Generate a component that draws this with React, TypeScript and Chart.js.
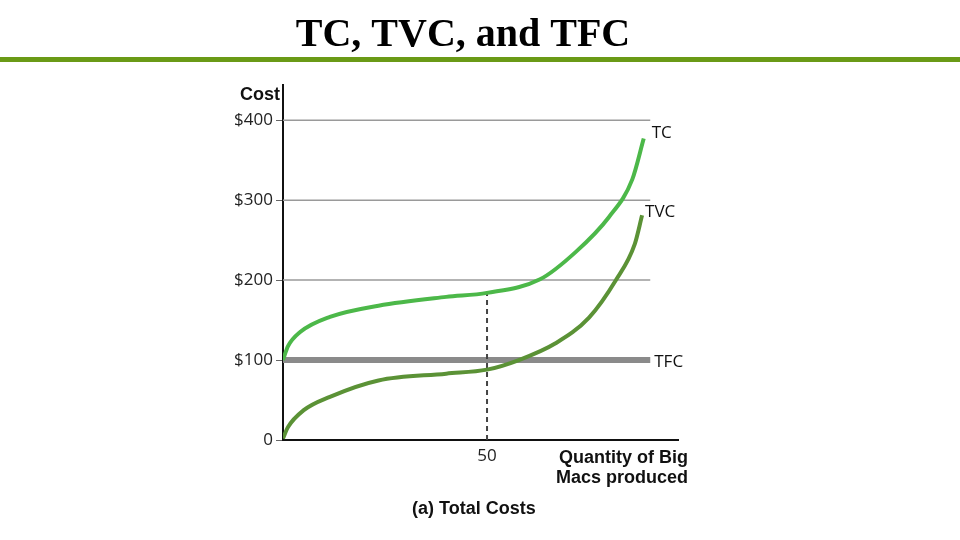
import { useEffect, useRef } from "react";
import { Chart, registerables } from "chart.js";

Chart.register(...registerables);

// ---- data ----
const tcQuantity = [0, 1.2, 4.2, 11.5, 23.4, 40, 50, 63, 71.7, 79.9, 85.6, 88.4];
const tcCost = [100, 117, 135, 154, 168, 179, 184, 201, 235, 279, 326, 377];
const tvcQuantity = [0, 1.2, 5, 11.5, 23.4, 40, 50, 57.8, 66.8, 75, 81.6, 86.2, 88];
const tvcCost = [2, 16, 37, 54, 74.5, 83, 88, 100, 121, 153, 200, 245, 281];
const tfcQuantity = [0, 90];
const tfcCost = [100, 100];
const gridCosts = [200, 300, 400];
const gridQuantityEnd = 90;
const markerQuantity = 50;
const markerCost = 185;
const yTickValues = [0, 100, 200, 300, 400];
const xTickValues = [50];
const seriesNames = ["TC", "TVC", "TFC"];

const pts = (xs: number[], ys: number[]) => xs.map((x, i) => ({ x, y: ys[i] }));

const decorations = {
  id: "decorations",
  afterDraw(chart: any) {
    const ctx = chart.ctx;
    ctx.save();
    // title
    ctx.fillStyle = "#000";
    ctx.font = "bold 40px 'Liberation Serif'";
    ctx.textAlign = "center";
    ctx.textBaseline = "alphabetic";
    ctx.fillText("TC, TVC, and TFC", 463, 46);
    // green rule
    ctx.fillStyle = "#6a9a16";
    ctx.fillRect(0, 57, 960, 5);
    // y-axis title
    ctx.fillStyle = "#111";
    ctx.font = "bold 18px 'Liberation Sans'";
    ctx.textAlign = "right";
    ctx.fillText("Cost", 280, 100);
    // x-axis title
    ctx.fillText("Quantity of Big", 688, 463);
    ctx.fillText("Macs produced", 688, 483);
    // caption
    ctx.textAlign = "left";
    ctx.fillText("(a) Total Costs", 412, 514);
    // series labels
    ctx.font = "17px 'Open Sans'";
    ctx.textBaseline = "middle";
    const offsets: Record<string, [number, number]> = { TC: [8, -5], TVC: [3, -3], TFC: [4, 2] };
    chart.data.datasets.forEach((ds: any, i: number) => {
      if (!seriesNames.includes(ds.label)) return;
      const meta = chart.getDatasetMeta(i);
      const last = meta.data[meta.data.length - 1];
      const [dx, dy] = offsets[ds.label];
      ctx.fillStyle = "#111";
      ctx.fillText(ds.label, last.x + dx, last.y + dy);
    });
    ctx.restore();
  },
};

export default function App() {
  const ref = useRef<HTMLCanvasElement>(null);
  useEffect(() => {
    if (!ref.current) return;
    const gridSets = gridCosts.map((c) => ({
      label: "grid" + c,
      data: pts([0, gridQuantityEnd], [c, c]),
      borderColor: "#9a9a9a",
      borderWidth: 1.5,
      pointRadius: 0,
    }));
    const chart = new Chart(ref.current, {
      type: "line",
      data: {
        datasets: [
          { label: "TC", data: pts(tcQuantity, tcCost), borderColor: "#4cb849", borderWidth: 4, pointRadius: 0, cubicInterpolationMode: "monotone" },
          { label: "TVC", data: pts(tvcQuantity, tvcCost), borderColor: "#5b9236", borderWidth: 4, pointRadius: 0, cubicInterpolationMode: "monotone" },
          { label: "marker", data: pts([markerQuantity, markerQuantity], [0, markerCost]), borderColor: "#444", borderWidth: 2, borderDash: [5, 4], pointRadius: 0 },
          { label: "TFC", data: pts(tfcQuantity, tfcCost), borderColor: "#8a8a8a", borderWidth: 6, pointRadius: 0 },
          ...gridSets,
        ] as any,
      },
      options: {
        animation: false,
        responsive: false,
        devicePixelRatio: 1,
        layout: { padding: { top: 85, right: 282, bottom: 0, left: 0 } },
        plugins: { legend: { display: false }, tooltip: { enabled: false }, title: { display: false } },
        scales: {
          x: {
            type: "linear",
            min: 0,
            max: 96.8,
            afterBuildTicks: (s: any) => { s.ticks = xTickValues.map((v) => ({ value: v })); },
            afterFit: (s: any) => { s.height = 100; },
            grid: { display: false, drawTicks: false },
            border: { display: true, color: "#111", width: 2 },
            ticks: { padding: 6, color: "#222", font: { family: "'Open Sans'", size: 17 }, autoSkip: false, maxRotation: 0 },
          },
          y: {
            type: "linear",
            min: 0,
            max: 444,
            afterBuildTicks: (s: any) => { s.ticks = yTickValues.map((v) => ({ value: v })); },
            afterFit: (s: any) => { s.width = 283; },
            grid: { drawOnChartArea: false, drawTicks: true, tickLength: 7, color: "#666", lineWidth: 1 },
            border: { display: true, color: "#111", width: 2 },
            ticks: {
              padding: 3,
              color: "#222",
              font: { family: "'Open Sans'", size: 17 },
              callback: (v: any) => (v === 0 ? "0" : "$" + v),
            },
          },
        },
      } as any,
      plugins: [decorations],
    });
    return () => chart.destroy();
  }, []);
  return (
    <div style={{ position: "absolute", left: 0, top: 0, width: 960, height: 540, background: "#fff" }}>
      <canvas ref={ref} width={960} height={540} style={{ width: 960, height: 540, display: "block" }} />
    </div>
  );
}
